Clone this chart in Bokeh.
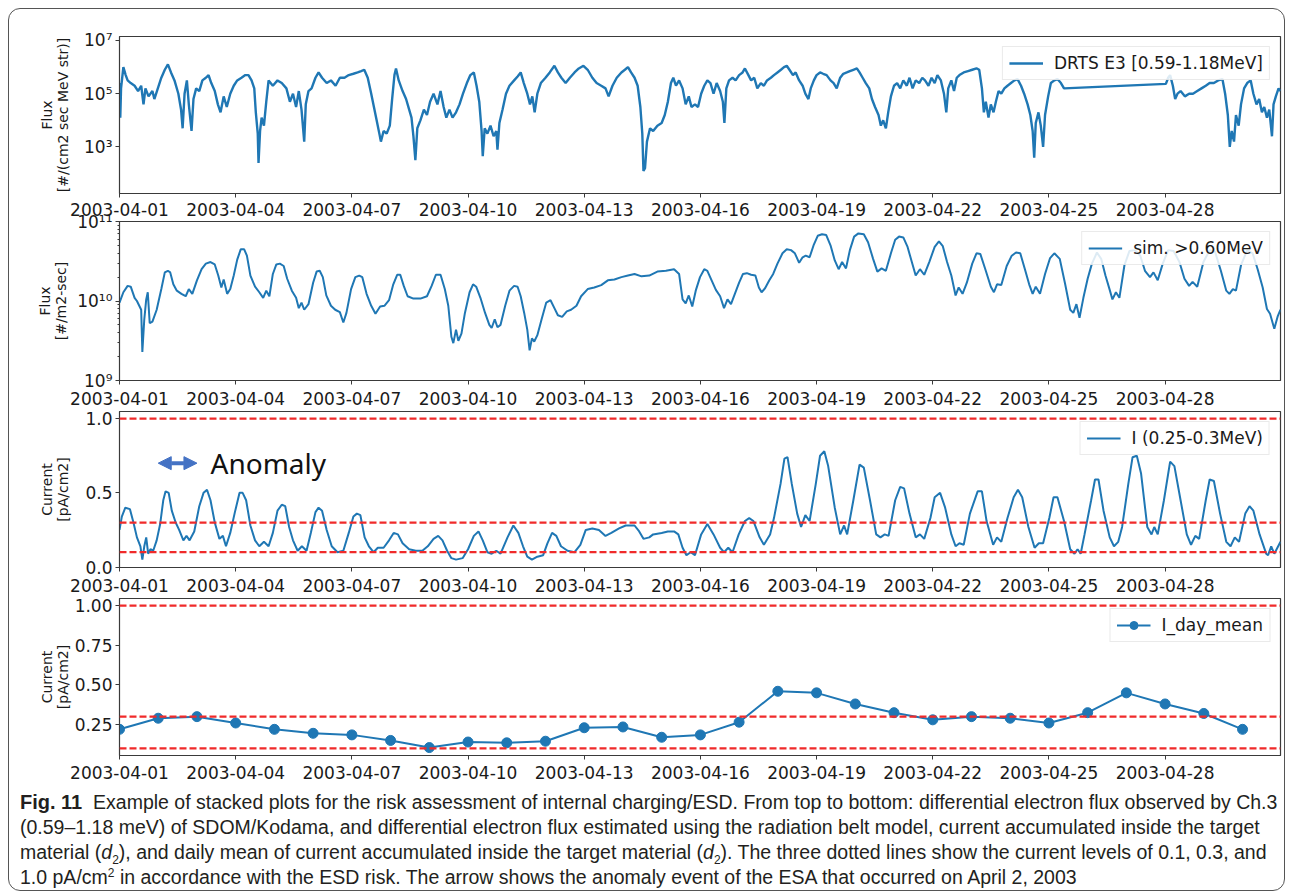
import numpy as np
from datetime import datetime, timedelta
from bokeh.plotting import figure
from bokeh.layouts import column
from bokeh.models import (Range1d, FixedTicker, DatetimeTickFormatter, Span,
                          CustomJSTickFormatter, PrintfTickFormatter, Arrow, NormalHead, Label, Div)
from bokeh.embed import file_html
from bokeh.resources import INLINE

# ---------------- data ----------------
start_date = "2003-04-01"
end_day = 29.98
date_tick_labels = ["2003-04-01", "2003-04-04", "2003-04-07", "2003-04-10", "2003-04-13",
                    "2003-04-16", "2003-04-19", "2003-04-22", "2003-04-25", "2003-04-28"]
risk_levels = [0.1, 0.3, 1.0]
anomaly_start = "2003-04-02"
anomaly_end = "2003-04-03"

# DRTS E3 [0.59-1.18MeV]: (day since 2003-04-01, log10 flux)
drts_points = [
    (0.00, 5.4), (0.02, 4.1), (0.04, 5.2), (0.10, 6.0), (0.16, 5.7), (0.21, 5.5), (0.29, 5.4), (0.39, 5.3),
    (0.48, 5.1), (0.56, 5.3), (0.62, 4.6), (0.67, 5.2), (0.75, 4.9), (0.85, 5.1), (0.90, 4.8), (0.99, 5.2),
    (1.08, 5.6), (1.17, 5.9), (1.25, 6.1), (1.33, 5.8), (1.42, 5.5), (1.52, 5.0), (1.59, 4.4), (1.63, 3.7),
    (1.68, 5.0), (1.74, 5.5), (1.79, 4.6), (1.86, 3.6), (1.91, 4.8), (1.98, 5.2),
    (2.06, 5.1), (2.14, 5.5), (2.23, 5.6), (2.30, 5.7), (2.37, 5.4), (2.46, 5.1), (2.54, 4.6), (2.61, 4.3),
    (2.69, 4.9), (2.77, 4.5), (2.86, 5.0), (2.95, 5.3), (3.04, 5.5), (3.15, 5.6), (3.25, 5.7), (3.33, 5.7),
    (3.41, 5.5), (3.48, 5.2), (3.52, 4.3), (3.57, 3.5), (3.59, 2.4), (3.63, 3.6), (3.67, 4.1), (3.73, 3.8),
    (3.79, 4.7), (3.85, 5.5), (3.96, 5.3),
    (4.08, 5.5), (4.19, 5.4), (4.31, 5.2), (4.40, 4.7), (4.48, 5.0), (4.56, 4.5), (4.63, 5.1), (4.70, 4.4),
    (4.77, 3.2), (4.81, 4.6), (4.88, 5.1), (4.96, 5.2), (5.06, 5.6), (5.14, 5.8), (5.23, 5.6), (5.35, 5.4),
    (5.46, 5.5), (5.58, 5.3), (5.69, 5.6), (5.81, 5.6), (5.92, 5.7),
    (6.04, 5.75), (6.15, 5.8), (6.24, 5.85), (6.32, 5.9), (6.41, 5.6), (6.50, 5.0), (6.57, 4.5), (6.64, 4.0),
    (6.71, 3.5), (6.75, 3.2), (6.82, 3.6), (6.90, 3.5), (6.98, 3.8), (7.04, 4.8), (7.10, 5.7), (7.14, 5.95),
    (7.21, 5.5), (7.31, 5.1), (7.40, 4.8), (7.48, 4.4), (7.54, 4.1), (7.59, 3.4), (7.64, 2.5), (7.69, 3.7),
    (7.77, 4.0), (7.86, 4.4), (7.94, 4.2),
    (8.02, 4.7), (8.11, 5.0), (8.21, 4.6), (8.29, 5.1), (8.37, 4.5), (8.44, 4.1), (8.52, 4.4), (8.60, 4.1),
    (8.69, 4.3), (8.78, 4.6), (8.87, 5.0), (8.97, 5.4), (9.06, 5.7), (9.15, 5.8), (9.22, 5.3), (9.29, 4.7),
    (9.35, 3.6), (9.38, 2.65), (9.43, 3.7), (9.50, 3.5), (9.58, 3.8), (9.66, 3.4), (9.73, 3.6), (9.76, 2.9),
    (9.81, 3.9), (9.89, 4.4), (9.98, 5.0),
    (10.07, 5.3), (10.19, 5.5), (10.28, 5.65), (10.36, 5.8), (10.44, 5.4), (10.53, 5.0), (10.60, 4.6),
    (10.66, 4.9), (10.72, 4.3), (10.79, 5.0), (10.88, 5.4), (11.00, 5.6), (11.11, 5.8), (11.23, 6.05),
    (11.32, 5.8), (11.41, 5.6), (11.52, 5.4), (11.63, 5.6), (11.75, 5.8), (11.86, 5.95), (11.98, 6.05),
    (12.09, 5.9), (12.21, 5.6), (12.32, 5.4), (12.44, 5.3), (12.55, 5.2), (12.63, 4.9), (12.73, 5.3),
    (12.84, 5.6), (12.96, 5.8), (13.05, 5.9), (13.13, 6.0), (13.21, 5.8), (13.30, 5.6), (13.38, 5.3),
    (13.45, 4.5), (13.50, 3.5), (13.53, 2.1), (13.57, 2.2), (13.62, 3.2), (13.70, 3.7), (13.78, 3.6),
    (13.89, 3.8),
    (14.00, 3.9), (14.08, 4.2), (14.16, 4.7), (14.24, 5.4), (14.30, 5.6), (14.37, 5.3), (14.45, 5.5),
    (14.54, 5.2), (14.62, 4.6), (14.70, 4.9), (14.77, 4.5), (14.86, 4.6), (14.94, 4.5), (15.02, 5.0),
    (15.10, 5.3), (15.18, 5.5), (15.26, 5.4), (15.34, 5.0), (15.42, 5.4), (15.51, 5.1), (15.58, 4.7),
    (15.62, 3.9), (15.67, 5.2), (15.74, 5.5), (15.83, 5.6), (15.91, 5.5),
    (16.00, 5.7), (16.09, 5.8), (16.15, 5.95), (16.24, 5.7), (16.31, 5.5), (16.39, 5.6), (16.47, 5.2),
    (16.56, 5.4), (16.64, 5.3), (16.72, 5.5), (16.82, 5.6), (16.90, 5.7), (16.99, 5.8), (17.08, 5.9),
    (17.16, 6.0), (17.23, 6.05), (17.30, 5.9), (17.39, 5.7), (17.46, 5.8), (17.55, 5.5), (17.64, 5.3),
    (17.71, 5.0), (17.79, 4.8), (17.85, 5.2), (17.93, 5.5),
    (18.00, 5.7), (18.09, 5.8), (18.17, 5.75), (18.26, 5.7), (18.36, 5.5), (18.44, 5.4), (18.52, 5.2),
    (18.61, 5.6), (18.69, 5.75), (18.78, 5.8), (18.86, 5.85), (18.95, 5.9), (19.04, 5.95), (19.11, 5.8),
    (19.19, 5.6), (19.27, 5.4), (19.36, 5.2), (19.43, 4.8), (19.51, 4.5), (19.60, 4.2), (19.66, 3.8),
    (19.72, 4.0), (19.79, 3.7), (19.85, 4.3), (19.92, 4.9),
    (20.00, 5.3), (20.08, 5.4), (20.16, 5.2), (20.24, 5.5), (20.33, 5.3), (20.40, 5.6), (20.48, 5.2),
    (20.56, 5.5), (20.65, 5.4), (20.73, 5.6), (20.80, 5.5), (20.89, 5.3), (20.97, 5.6), (21.05, 5.4),
    (21.12, 5.7), (21.21, 5.5), (21.29, 5.0), (21.35, 4.3), (21.40, 5.2), (21.48, 5.5), (21.55, 5.1),
    (21.62, 5.6), (21.69, 5.7), (21.80, 5.8), (21.91, 5.85),
    (22.02, 5.9), (22.13, 5.95), (22.20, 5.9), (22.27, 5.2), (22.32, 4.3), (22.37, 4.7), (22.44, 4.1),
    (22.50, 4.6), (22.57, 4.3), (22.63, 4.7), (22.70, 5.1), (22.77, 5.0), (22.85, 5.2), (22.93, 5.3),
    (23.02, 5.4), (23.11, 5.5), (23.19, 5.55), (23.28, 5.3), (23.36, 5.0), (23.45, 4.6), (23.52, 4.2),
    (23.58, 3.6), (23.62, 2.6), (23.66, 3.9), (23.73, 4.3), (23.79, 3.8), (23.85, 3.0), (23.90, 4.2),
    (23.98, 4.9), (24.05, 5.4), (24.14, 5.5), (24.22, 5.55), (24.31, 5.4), (24.39, 5.2),
    (27.02, 5.37), (27.08, 5.6), (27.13, 5.7), (27.20, 5.3), (27.26, 4.8), (27.32, 5.0), (27.40, 5.1),
    (27.51, 4.9), (27.62, 5.0), (27.72, 5.0), (27.83, 5.1), (27.94, 5.2), (28.05, 5.3), (28.15, 5.4),
    (28.26, 5.4), (28.37, 5.5), (28.48, 5.55), (28.55, 5.0), (28.62, 4.2), (28.67, 3.0), (28.72, 3.6),
    (28.78, 3.2), (28.83, 4.2), (28.90, 3.8), (28.96, 4.6),
    (29.04, 5.2), (29.12, 5.4), (29.21, 5.5), (29.28, 5.0), (29.36, 4.6), (29.43, 4.8), (29.50, 4.3),
    (29.56, 4.5), (29.63, 4.1), (29.69, 4.4), (29.76, 3.4), (29.80, 4.6), (29.86, 4.9), (29.93, 5.2),
    (29.98, 5.1),
]

# sim. >0.60MeV: (day, log10 flux)
sim_points = [
    (0.00, 9.98), (0.10, 10.11), (0.21, 10.19), (0.29, 10.18), (0.39, 10.04), (0.45, 10.0), (0.51, 9.94),
    (0.56, 9.89), (0.59, 9.36), (0.64, 9.77), (0.69, 10.02), (0.73, 10.11), (0.78, 9.72), (0.85, 9.74),
    (0.96, 9.89), (1.08, 10.15), (1.17, 10.36), (1.25, 10.38), (1.31, 10.36), (1.39, 10.21), (1.48, 10.13),
    (1.60, 10.09), (1.71, 10.06), (1.79, 10.15), (1.88, 10.09), (2.00, 10.26), (2.12, 10.40), (2.23, 10.47),
    (2.35, 10.49), (2.46, 10.46), (2.55, 10.32), (2.63, 10.17), (2.69, 10.27), (2.78, 10.09), (2.86, 10.15),
    (2.95, 10.32), (3.04, 10.52), (3.13, 10.65), (3.22, 10.65), (3.29, 10.57), (3.38, 10.32), (3.50, 10.18),
    (3.61, 10.11), (3.71, 10.04), (3.79, 10.13), (3.87, 10.06), (3.96, 10.34), (4.05, 10.46), (4.14, 10.47),
    (4.24, 10.44), (4.33, 10.28), (4.45, 10.13), (4.56, 10.04), (4.63, 9.91), (4.70, 9.98), (4.77, 9.89),
    (4.88, 9.96), (5.00, 10.23), (5.09, 10.37), (5.17, 10.38), (5.25, 10.30), (5.34, 10.07), (5.46, 9.94),
    (5.57, 9.89), (5.69, 9.86), (5.78, 9.73), (5.86, 9.85), (5.98, 10.15), (6.09, 10.30), (6.19, 10.32),
    (6.27, 10.30), (6.38, 10.09), (6.50, 9.94), (6.61, 9.84), (6.73, 9.93), (6.84, 9.94), (6.96, 10.01),
    (7.07, 10.21), (7.17, 10.33), (7.25, 10.33), (7.34, 10.19), (7.44, 10.06), (7.59, 10.03), (7.77, 10.03),
    (7.94, 10.06), (8.06, 10.19), (8.17, 10.33), (8.29, 10.33), (8.40, 10.15), (8.49, 9.94), (8.57, 9.55),
    (8.62, 9.47), (8.69, 9.64), (8.75, 9.50), (8.83, 9.59), (8.92, 9.85), (9.04, 10.11), (9.13, 10.21),
    (9.21, 10.18), (9.32, 10.04), (9.44, 9.85), (9.55, 9.70), (9.61, 9.66), (9.69, 9.77), (9.76, 9.67),
    (9.84, 9.70), (9.96, 9.94), (10.07, 10.13), (10.19, 10.19), (10.28, 10.18), (10.36, 10.06), (10.45, 9.85),
    (10.53, 9.64), (10.59, 9.38), (10.65, 9.53), (10.71, 9.49), (10.79, 9.57), (10.90, 9.77), (11.02, 9.98),
    (11.13, 10.01), (11.23, 9.91), (11.32, 9.82), (11.43, 9.80), (11.55, 9.87), (11.66, 9.89), (11.80, 9.94),
    (11.92, 10.06), (12.09, 10.15), (12.26, 10.17), (12.44, 10.20), (12.61, 10.26), (12.78, 10.27),
    (12.96, 10.30), (13.13, 10.32), (13.30, 10.34), (13.48, 10.31), (13.68, 10.32), (13.89, 10.37),
    (14.11, 10.38), (14.32, 10.40), (14.45, 10.34), (14.54, 10.02), (14.62, 9.97), (14.70, 10.07),
    (14.79, 9.93), (14.88, 10.13), (14.99, 10.30), (15.10, 10.40), (15.18, 10.38), (15.29, 10.26),
    (15.40, 10.14), (15.51, 10.06), (15.61, 9.91), (15.70, 10.02), (15.79, 9.96), (15.89, 10.09),
    (16.00, 10.23), (16.10, 10.34), (16.20, 10.35), (16.31, 10.33), (16.42, 10.32), (16.51, 10.17),
    (16.58, 10.11), (16.67, 10.16), (16.78, 10.26), (16.88, 10.34), (16.99, 10.47), (17.12, 10.60),
    (17.23, 10.65), (17.34, 10.64), (17.44, 10.60), (17.55, 10.48), (17.64, 10.55), (17.72, 10.57),
    (17.82, 10.55), (17.93, 10.71), (18.03, 10.82), (18.14, 10.84), (18.25, 10.83), (18.36, 10.70),
    (18.47, 10.51), (18.57, 10.40), (18.66, 10.49), (18.76, 10.41), (18.86, 10.64), (18.97, 10.81),
    (19.08, 10.85), (19.22, 10.84), (19.33, 10.74), (19.46, 10.53), (19.57, 10.37), (19.68, 10.41),
    (19.79, 10.38), (19.92, 10.60), (20.03, 10.77), (20.13, 10.81), (20.24, 10.80), (20.35, 10.68),
    (20.46, 10.49), (20.56, 10.32), (20.67, 10.40), (20.78, 10.33), (20.91, 10.49), (21.05, 10.68),
    (21.16, 10.75), (21.26, 10.69), (21.37, 10.49), (21.48, 10.32), (21.59, 10.07), (21.67, 10.17),
    (21.77, 10.09), (21.88, 10.23), (22.02, 10.47), (22.13, 10.60), (22.23, 10.59), (22.37, 10.38),
    (22.50, 10.18), (22.58, 10.11), (22.66, 10.21), (22.77, 10.20), (22.91, 10.44), (23.04, 10.57),
    (23.15, 10.61), (23.26, 10.60), (23.38, 10.40), (23.49, 10.21), (23.58, 10.09), (23.66, 10.18),
    (23.77, 10.09), (23.90, 10.34), (24.03, 10.54), (24.14, 10.60), (24.28, 10.53), (24.42, 10.21),
    (24.55, 9.89), (24.63, 9.85), (24.71, 9.96), (24.79, 9.79), (24.89, 10.04), (25.00, 10.28),
    (25.11, 10.47), (25.24, 10.61), (25.35, 10.53), (25.46, 10.32), (25.57, 10.14), (25.64, 10.02),
    (25.73, 10.11), (25.82, 10.04), (25.95, 10.45), (26.08, 10.63), (26.22, 10.64), (26.36, 10.57),
    (26.48, 10.38), (26.61, 10.30), (26.70, 10.36), (26.81, 10.26), (26.94, 10.47), (27.08, 10.64),
    (27.22, 10.63), (27.37, 10.49), (27.50, 10.28), (27.62, 10.19), (27.71, 10.24), (27.83, 10.18),
    (27.99, 10.49), (28.15, 10.64), (28.29, 10.62), (28.44, 10.38), (28.58, 10.13), (28.66, 10.09),
    (28.75, 10.15), (28.83, 10.13), (28.96, 10.45), (29.12, 10.64), (29.26, 10.60), (29.39, 10.40),
    (29.52, 10.17), (29.63, 9.90), (29.71, 9.84), (29.82, 9.65), (29.91, 9.81), (29.98, 9.89),
]

# I (0.25-0.3MeV): (day, current pA/cm2)
current_points = [
    (0.00, 0.25), (0.06, 0.34), (0.15, 0.40), (0.27, 0.39), (0.36, 0.30), (0.45, 0.20), (0.54, 0.14),
    (0.59, 0.05), (0.64, 0.14), (0.69, 0.20), (0.74, 0.09), (0.80, 0.12), (0.87, 0.11), (0.96, 0.18),
    (1.05, 0.29), (1.13, 0.45), (1.19, 0.51), (1.27, 0.50), (1.35, 0.38), (1.45, 0.30), (1.54, 0.25),
    (1.65, 0.18), (1.73, 0.21), (1.81, 0.18), (1.93, 0.24), (2.06, 0.41), (2.17, 0.50), (2.26, 0.52),
    (2.35, 0.45), (2.46, 0.30), (2.58, 0.19), (2.67, 0.21), (2.75, 0.14), (2.86, 0.23), (2.98, 0.37),
    (3.10, 0.50), (3.18, 0.50), (3.27, 0.45), (3.38, 0.28), (3.50, 0.18), (3.61, 0.14), (3.73, 0.17),
    (3.85, 0.14), (3.96, 0.23), (4.08, 0.38), (4.19, 0.42), (4.28, 0.41), (4.38, 0.27), (4.48, 0.18),
    (4.60, 0.11), (4.71, 0.14), (4.83, 0.11), (4.94, 0.23), (5.06, 0.37), (5.14, 0.40), (5.23, 0.38),
    (5.35, 0.25), (5.48, 0.14), (5.63, 0.10), (5.78, 0.11), (5.92, 0.23), (6.04, 0.34), (6.13, 0.36),
    (6.22, 0.35), (6.33, 0.20), (6.44, 0.14), (6.56, 0.10), (6.67, 0.13), (6.82, 0.13), (6.96, 0.18),
    (7.08, 0.23), (7.19, 0.22), (7.31, 0.16), (7.48, 0.12), (7.65, 0.11), (7.82, 0.11), (7.96, 0.14),
    (8.11, 0.19), (8.23, 0.21), (8.34, 0.18), (8.46, 0.11), (8.57, 0.06), (8.69, 0.05), (8.86, 0.06),
    (9.00, 0.12), (9.15, 0.21), (9.27, 0.24), (9.38, 0.18), (9.50, 0.10), (9.61, 0.09), (9.73, 0.11),
    (9.84, 0.09), (10.02, 0.20), (10.17, 0.28), (10.30, 0.23), (10.42, 0.14), (10.53, 0.07), (10.65, 0.05),
    (10.79, 0.07), (10.94, 0.08), (11.05, 0.16), (11.17, 0.23), (11.28, 0.21), (11.40, 0.14), (11.57, 0.11),
    (11.75, 0.10), (11.90, 0.15), (12.04, 0.25), (12.21, 0.26), (12.38, 0.25), (12.55, 0.21), (12.70, 0.23),
    (12.90, 0.26), (13.07, 0.28), (13.30, 0.28), (13.42, 0.24), (13.53, 0.19), (13.68, 0.20), (13.78, 0.22),
    (14.00, 0.23), (14.16, 0.24), (14.32, 0.24), (14.43, 0.22), (14.54, 0.13), (14.64, 0.08), (14.75, 0.10),
    (14.86, 0.08), (15.02, 0.22), (15.18, 0.29), (15.34, 0.22), (15.51, 0.13), (15.61, 0.10), (15.72, 0.13),
    (15.83, 0.10), (15.99, 0.22), (16.15, 0.31), (16.26, 0.33), (16.37, 0.31), (16.53, 0.20), (16.64, 0.15),
    (16.80, 0.22), (16.90, 0.33), (17.07, 0.56), (17.17, 0.73), (17.25, 0.74), (17.36, 0.56), (17.50, 0.36),
    (17.60, 0.27), (17.71, 0.35), (17.82, 0.31), (17.98, 0.56), (18.09, 0.75), (18.20, 0.78), (18.30, 0.68),
    (18.47, 0.40), (18.61, 0.22), (18.71, 0.28), (18.79, 0.22), (18.95, 0.45), (19.11, 0.69), (19.22, 0.67),
    (19.38, 0.45), (19.54, 0.22), (19.65, 0.20), (19.76, 0.22), (19.86, 0.21), (20.03, 0.45), (20.16, 0.54),
    (20.26, 0.53), (20.40, 0.36), (20.56, 0.20), (20.67, 0.22), (20.78, 0.19), (20.94, 0.33), (21.05, 0.47),
    (21.19, 0.50), (21.32, 0.40), (21.48, 0.22), (21.59, 0.14), (21.69, 0.16), (21.80, 0.15), (21.96, 0.36),
    (22.16, 0.51), (22.27, 0.51), (22.39, 0.31), (22.56, 0.15), (22.66, 0.20), (22.77, 0.17), (22.93, 0.33),
    (23.09, 0.47), (23.20, 0.52), (23.31, 0.47), (23.47, 0.27), (23.63, 0.13), (23.74, 0.16), (23.85, 0.16),
    (24.01, 0.33), (24.12, 0.47), (24.22, 0.47), (24.39, 0.31), (24.55, 0.12), (24.66, 0.09), (24.74, 0.12),
    (24.82, 0.09), (24.92, 0.22), (25.09, 0.45), (25.19, 0.59), (25.28, 0.59), (25.41, 0.38), (25.57, 0.20),
    (25.68, 0.14), (25.79, 0.17), (25.89, 0.27), (26.05, 0.56), (26.16, 0.74), (26.27, 0.75), (26.38, 0.63),
    (26.54, 0.27), (26.65, 0.22), (26.72, 0.27), (26.81, 0.22), (26.97, 0.45), (27.13, 0.71), (27.24, 0.68),
    (27.40, 0.45), (27.56, 0.22), (27.67, 0.15), (27.78, 0.21), (27.88, 0.19), (28.05, 0.45), (28.15, 0.59),
    (28.26, 0.58), (28.42, 0.36), (28.58, 0.17), (28.69, 0.14), (28.80, 0.20), (28.91, 0.17), (29.07, 0.36),
    (29.18, 0.41), (29.28, 0.38), (29.44, 0.22), (29.61, 0.09), (29.66, 0.08), (29.74, 0.14), (29.82, 0.09),
    (29.98, 0.17),
]

# I_day_mean (daily mean current, plotted at 00:00 of each day)
day_mean_day = [0, 1, 2, 3, 4, 5, 6, 7, 8, 9, 10, 11, 12, 13, 14,
                15, 16, 17, 18, 19, 20, 21, 22, 23, 24, 25, 26, 27, 28, 29]
day_mean_current = [0.22, 0.29, 0.30, 0.26, 0.22, 0.195, 0.185, 0.15, 0.105, 0.14, 0.135, 0.145, 0.23, 0.235, 0.17,
                    0.185, 0.265, 0.46, 0.45, 0.38, 0.325, 0.28, 0.30, 0.29, 0.26, 0.325, 0.45, 0.38, 0.32, 0.22]

# ---------------- helpers ----------------
T0 = datetime.strptime(start_date, "%Y-%m-%d")
EPOCH = datetime(1970, 1, 1)


def ms(dt):
    return (dt - EPOCH).total_seconds() * 1000.0


def days_to_dt(days):
    return [T0 + timedelta(days=float(d)) for d in days]


tick_ms = [ms(datetime.strptime(s, "%Y-%m-%d")) for s in date_tick_labels]

BLUE = "#1f77b4"
RED = "#f02a2a"
AX = "#3a3a3a"
FONT = "DejaVu Sans"
TICK_FS = "17px"


def date_formatter():
    f = "%Y-%m-%d"
    return DatetimeTickFormatter(days=f, months=f, hours=f, hourmin=f, years=f, minutes=f,
                                 strip_leading_zeros=False)


sup_js = """
const sup = {"0":"\u2070","1":"\u00b9","2":"\u00b2","3":"\u00b3","4":"\u2074","5":"\u2075",
             "6":"\u2076","7":"\u2077","8":"\u2078","9":"\u2079","-":"\u207b"};
const e = Math.round(Math.log10(tick));
return "10" + String(e).split("").map(c => sup[c]).join("");
"""


def make_fig(y_range, y_type, top_border, frame_h, label_standoff, overlap, ylabel_fs):
    p = figure(x_axis_type="datetime", y_axis_type=y_type,
               x_range=Range1d(T0, T0 + timedelta(days=end_day)), y_range=y_range,
               frame_width=1161, frame_height=frame_h,
               min_border_left=110, min_border_right=4, min_border_top=top_border, min_border_bottom=4,
               output_backend="svg", toolbar_location=None, tools="",
               margin=(-overlap, 0, 0, 0))
    p.grid.visible = False
    p.outline_line_color = AX
    p.outline_line_width = 1.2
    p.border_fill_color = None
    p.background_fill_color = "white"

    xa = p.xaxis[0]
    xa.ticker = FixedTicker(ticks=tick_ms)
    xa.formatter = date_formatter()
    xa.axis_line_color = AX
    xa.major_tick_line_color = AX
    xa.major_tick_out = 4
    xa.major_tick_in = 0
    xa.minor_tick_line_color = None
    xa.major_label_text_font = FONT
    xa.major_label_text_font_size = TICK_FS
    xa.major_label_text_color = "#1a1a1a"
    xa.major_label_standoff = label_standoff

    ya = p.yaxis[0]
    ya.axis_line_color = AX
    ya.major_tick_line_color = AX
    ya.major_tick_out = 4
    ya.major_tick_in = 0
    ya.minor_tick_line_color = AX
    ya.minor_tick_out = 2
    ya.minor_tick_in = 0
    ya.major_label_text_font = FONT
    ya.major_label_text_font_size = TICK_FS
    ya.major_label_text_color = "#1a1a1a"
    ya.major_label_standoff = 3
    ya.axis_label_text_font = FONT
    ya.axis_label_text_font_size = ylabel_fs
    ya.axis_label_text_font_style = "normal"
    ya.axis_label_text_line_height = 1.0
    ya.axis_label_text_color = "#1a1a1a"
    return p


def style_legend(p, margin=10):
    lg = p.legend[0]
    lg.location = "top_right"
    lg.margin = margin
    lg.padding = 6
    lg.spacing = 0
    lg.label_text_font = FONT
    lg.label_text_font_size = "17px"
    lg.label_text_color = "#1a1a1a"
    lg.label_standoff = 11
    lg.glyph_width = 34
    lg.label_height = 20
    lg.glyph_height = 20
    lg.border_line_color = "#d5d5d5"
    lg.border_line_width = 1
    lg.background_fill_alpha = 0.85


def add_risk_lines(p):
    for lv in risk_levels:
        p.add_layout(Span(location=lv, dimension="width", line_color=RED, line_width=2.2, line_dash="7 3"))


# ---------------- panel 1 ----------------
p1 = make_fig(Range1d(10 ** 1.25, 10 ** 7.15), "log", 27, 157, 5, 0, "14px")
p1.line(days_to_dt([d for d, _ in drts_points]), [10 ** e for _, e in drts_points],
        line_color=BLUE, line_width=2.4, legend_label="DRTS E3 [0.59-1.18MeV]")
p1.yaxis[0].ticker = FixedTicker(ticks=[1e3, 1e5, 1e7], minor_ticks=[])
p1.yaxis[0].formatter = CustomJSTickFormatter(code=sup_js)
p1.yaxis[0].axis_label = "Flux\n[#/(cm2 sec MeV str)]"
p1.yaxis[0].axis_label_standoff = 10
style_legend(p1)

# ---------------- panel 2 ----------------
p2 = make_fig(Range1d(1e9, 1e11), "log", 12, 159, 7, 9, "14px")
p2.line(days_to_dt([d for d, _ in sim_points]), [10 ** e for _, e in sim_points],
        line_color=BLUE, line_width=2, legend_label="sim. >0.60MeV")
minor = [k * 1e9 for k in range(2, 10)] + [k * 1e10 for k in range(2, 10)]
p2.yaxis[0].ticker = FixedTicker(ticks=[1e9, 1e10, 1e11], minor_ticks=minor)
p2.yaxis[0].formatter = CustomJSTickFormatter(code=sup_js)
p2.yaxis[0].axis_label = "Flux\n[#/m2-sec]"
p2.yaxis[0].axis_label_standoff = 5
style_legend(p2)

# ---------------- panel 3 ----------------
p3 = make_fig(Range1d(-0.003, 1.048), "linear", 12, 156, 7, 8, "14px")
p3.line(days_to_dt([d for d, _ in current_points]), [c for _, c in current_points],
        line_color=BLUE, line_width=2, legend_label="I (0.25-0.3MeV)")
p3.yaxis[0].ticker = FixedTicker(ticks=[0.0, 0.5, 1.0], minor_ticks=[])
p3.yaxis[0].formatter = PrintfTickFormatter(format="%.1f")
p3.yaxis[0].axis_label = "Current\n[pA/cm2]"
p3.yaxis[0].axis_label_standoff = 11
add_risk_lines(p3)
style_legend(p3)
ARROW_C = "#4472c4"
a_x0 = ms(datetime.strptime(anomaly_start, "%Y-%m-%d"))
a_x1 = ms(datetime.strptime(anomaly_end, "%Y-%m-%d"))
p3.add_layout(Arrow(start=NormalHead(size=13, fill_color=ARROW_C, line_color=ARROW_C),
                    end=NormalHead(size=13, fill_color=ARROW_C, line_color=ARROW_C),
                    x_start=a_x0, y_start=0.70, x_end=a_x1, y_end=0.70,
                    line_color=ARROW_C, line_width=4))
p3.add_layout(Label(x=a_x1 + (a_x1 - a_x0) * 0.35, y=0.70, text="Anomaly", text_font="Noto Sans",
                    text_font_size="28px", text_baseline="middle", text_color="#111111"))

# ---------------- panel 4 ----------------
p4 = make_fig(Range1d(0.055, 1.045), "linear", 12, 157, 6, 8, "14px")
dm_x = days_to_dt(day_mean_day)
p4.line(dm_x, day_mean_current, line_color=BLUE, line_width=2, legend_label="I_day_mean")
p4.scatter(dm_x, day_mean_current, size=10, fill_color=BLUE, line_color=BLUE, legend_label="I_day_mean")
p4.yaxis[0].ticker = FixedTicker(ticks=[0.25, 0.5, 0.75, 1.0], minor_ticks=[])
p4.yaxis[0].formatter = PrintfTickFormatter(format="%.2f")
p4.yaxis[0].axis_label = "Current\n[pA/cm2]"
p4.yaxis[0].axis_label_standoff = 1
add_risk_lines(p4)
style_legend(p4)

# ---------------- caption ----------------
sub = '<sub style="font-size:12px;line-height:0">2</sub>'
caption_html = (
    '<div style="font-family:\'Liberation Sans\',Arial,sans-serif;font-size:19.5px;line-height:25px;'
    'color:#231f20;white-space:nowrap;padding-left:11px;padding-top:9px">'
    '<b style="font-size:20px">Fig. 11</b>&nbsp;&nbsp;Example of stacked plots for the risk assessment of internal '
    'charging/ESD. From top to bottom: differential electron flux observed by Ch.3<br>'
    '(0.59\u20131.18 meV) of SDOM/Kodama, and differential electron flux estimated using the radiation belt model, '
    'current accumulated inside the target<br>'
    'material (<i>d</i>' + sub + '), and daily mean of current accumulated inside the target material (<i>d</i>'
    + sub + '). The three dotted lines show the current levels of 0.1, 0.3, and<br>'
    '1.0 pA/cm<sup style="font-size:12px;line-height:0">2</sup> in accordance with the ESD risk. The arrow shows '
    'the anomaly event of the ESA that occurred on April 2, 2003'
    '</div>'
)
cap = Div(text=caption_html, width=1275, height=109, margin=(0, 0, 0, 0))

layout = column(p1, p2, p3, p4, cap,
                styles={"border": "1px solid #555555", "border-radius": "12px",
                        "margin-left": "8px", "margin-top": "8px"})

open("out.html", "w").write(file_html(layout, INLINE))
